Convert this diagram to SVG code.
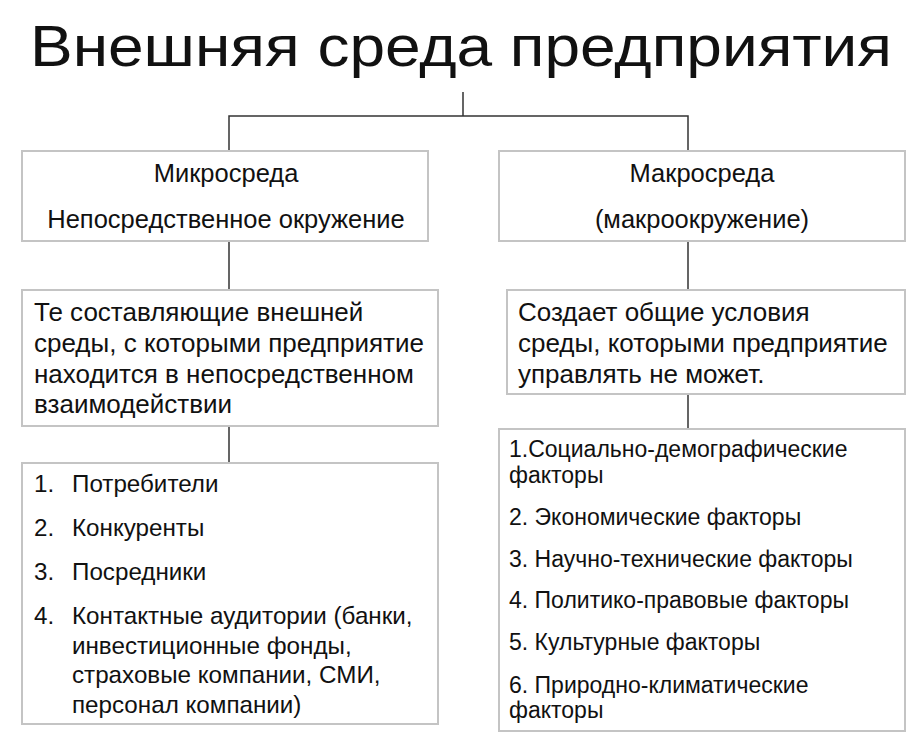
<svg xmlns="http://www.w3.org/2000/svg" width="922" height="741" viewBox="0 0 922 741">
<style>
text{font-family:"Liberation Sans",Arial,sans-serif;fill:#111}
.box{fill:#fff;stroke:#c4c4c4;stroke-width:2}
.c{font-size:25.5px;text-anchor:middle}
.m{font-size:26px}
.l{font-size:24.2px}
.s{font-size:23px}
.ln{stroke:#333;stroke-width:1.5;fill:none}
</style>
<rect width="922" height="741" fill="#fff"/>
<text x="461" y="66" font-size="57" text-anchor="middle" textLength="862" lengthAdjust="spacingAndGlyphs">Внешняя среда предприятия</text>
<g id="connectors">
<path class="ln" d="M463 92V116M229 151V116H688V151"/>
<path class="ln" d="M229 241V290M229 426V463M688 241V290M688 394V429"/>
</g>
<g id="micro"><rect class="box" x="22" y="151" width="406" height="90"/>
<text class="c" x="226" y="182">Микросреда</text>
<text class="c" x="226" y="228">Непосредственное окружение</text></g>
<g id="macro"><rect class="box" x="499" y="151" width="406" height="90"/>
<text class="c" x="702" y="182">Макросреда</text>
<text class="c" x="702" y="228">(макроокружение)</text></g>
<g id="micro-desc"><rect class="box" x="22" y="290" width="416" height="136"/>
<text class="m" x="34" y="321">Те составляющие внешней</text>
<text class="m" x="34" y="352">среды, с которыми предприятие</text>
<text class="m" x="34" y="383">находится в непосредственном</text>
<text class="m" x="34" y="413">взаимодействии</text></g>
<g id="macro-desc"><rect class="box" x="507" y="290" width="398" height="104"/>
<text class="m" x="518" y="321">Создает общие условия</text>
<text class="m" x="518" y="352">среды, которыми предприятие</text>
<text class="m" x="518" y="383">управлять не может.</text></g>
<g id="micro-list"><rect class="box" x="22" y="463" width="416" height="261"/>
<text class="l" x="34" y="492">1.</text><text class="l" x="72" y="492">Потребители</text>
<text class="l" x="34" y="536">2.</text><text class="l" x="72" y="536">Конкуренты</text>
<text class="l" x="34" y="580">3.</text><text class="l" x="72" y="580">Посредники</text>
<text class="l" x="34" y="624">4.</text><text class="l" x="72" y="624">Контактные аудитории (банки,</text>
<text class="l" x="72" y="654">инвестиционные фонды,</text>
<text class="l" x="72" y="683">страховые компании, СМИ,</text>
<text class="l" x="72" y="713">персонал компании)</text></g>
<g id="macro-list"><rect class="box" x="499" y="429" width="406" height="302"/>
<text class="s" x="509" y="457">1.Социально-демографические</text>
<text class="s" x="509" y="483">факторы</text>
<text class="s" x="509" y="525">2. Экономические факторы</text>
<text class="s" x="509" y="567">3. Научно-технические факторы</text>
<text class="s" x="509" y="608">4. Политико-правовые факторы</text>
<text class="s" x="509" y="650">5. Культурные факторы</text>
<text class="s" x="509" y="693">6. Природно-климатические</text>
<text class="s" x="509" y="718">факторы</text></g>
</svg>
